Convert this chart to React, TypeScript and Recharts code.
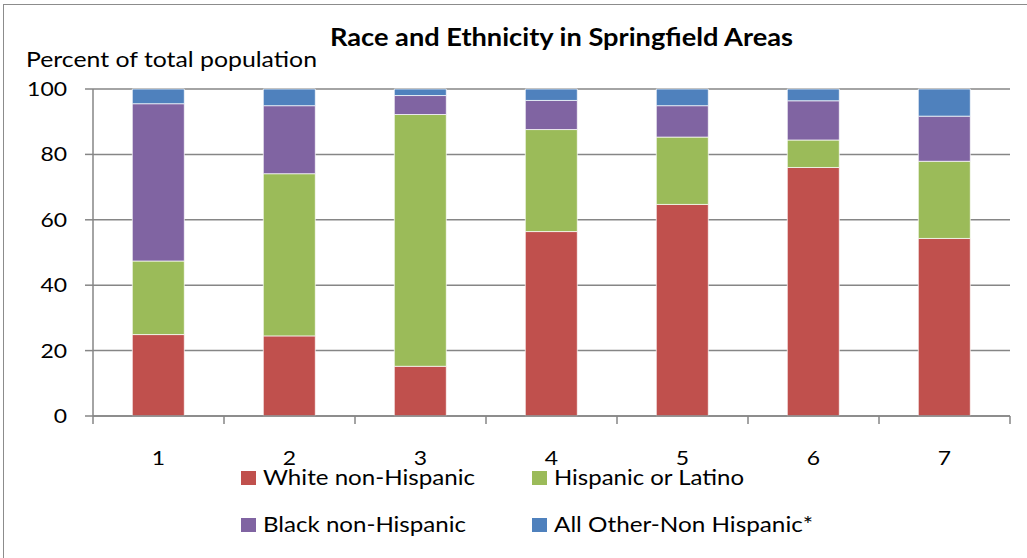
import { BarChart, Bar, XAxis, YAxis, CartesianGrid } from "recharts";

// Springfield areas, percent of total population by group
const areas = ["1", "2", "3", "4", "5", "6", "7"];
const whiteNonHispanic = [24.9, 24.5, 15.2, 56.4, 64.7, 76.0, 54.3];
const hispanicOrLatino = [22.5, 49.6, 77.0, 31.2, 20.6, 8.4, 23.6];
const blackNonHispanic = [48.1, 20.8, 5.8, 8.9, 9.6, 12.0, 13.8];
const allOtherNonHispanic = [4.5, 5.1, 2.0, 3.5, 5.1, 3.6, 8.3];
const yTicks = [0, 20, 40, 60, 80, 100];

const data = areas.map((area, i) => ({
  area,
  white: whiteNonHispanic[i],
  hispanic: hispanicOrLatino[i],
  black: blackNonHispanic[i],
  other: allOtherNonHispanic[i],
}));

const W = 1027;
const H = 558;
const MARGIN = { top: 89, right: 17, bottom: 0, left: 0 };
const Y_AXIS_W = 93;
const X_AXIS_H = 142;
const STEP = (W - MARGIN.right - Y_AXIS_W) / areas.length;

const FONT = "Lato, 'Open Sans', sans-serif";
const GRID = "#868686";
const DIGIT_W = 13.3; // stretched Calibri-like digits

const legendItems = [
  { label: "White non-Hispanic", color: "#C0504D", x: 241, y: 471, len: 212 },
  { label: "Hispanic or Latino", color: "#9BBB59", x: 532, y: 471, len: 190 },
  { label: "Black non-Hispanic", color: "#8064A2", x: 241, y: 518, len: 203 },
  { label: "All Other-Non Hispanic*", color: "#4F81BD", x: 532, y: 518, len: 259 },
];

function AreaTick(props: any) {
  const { x, y, payload, index } = props;
  const left = x - STEP / 2;
  const right = x + STEP / 2;
  return (
    <g>
      <line x1={left} x2={left} y1={y} y2={y + 8} stroke={GRID} strokeWidth={1.5} />
      {index === areas.length - 1 && (
        <line x1={right} x2={right} y1={y} y2={y + 8} stroke={GRID} strokeWidth={1.5} />
      )}
      <text
        x={x}
        y={y + 49}
        textAnchor="middle"
        fontFamily={FONT}
        fontSize={20}
        textLength={DIGIT_W}
        lengthAdjust="spacingAndGlyphs"
        fill="#000"
      >
        {payload.value}
      </text>
    </g>
  );
}

function PercentTick(props: any) {
  const { x, y, payload } = props;
  const label = String(payload.value);
  return (
    <text
      x={x}
      y={y + 7}
      textAnchor="end"
      fontFamily={FONT}
      fontSize={20}
      textLength={label.length * DIGIT_W}
      lengthAdjust="spacingAndGlyphs"
      fill="#000"
    >
      {label}
    </text>
  );
}

export default function App() {
  return (
    <div style={{ position: "fixed", left: 0, top: 0, width: W, height: H, background: "#fff", overflow: "hidden" }}>
      <div
        style={{
          position: "absolute",
          left: 3,
          top: 4,
          width: W + 20,
          height: H + 20,
          borderTop: "1.5px solid #8c8c8c",
          borderLeft: "1.5px solid #8c8c8c",
        }}
      />
      <BarChart width={W} height={H} data={data} margin={MARGIN} barCategoryGap="30%">
        <CartesianGrid vertical={false} stroke={GRID} strokeWidth={1.5} />
        <XAxis
          dataKey="area"
          height={X_AXIS_H}
          axisLine={{ stroke: GRID, strokeWidth: 1.5 }}
          tickLine={false}
          tickSize={0}
          tickMargin={0}
          interval={0}
          tick={<AreaTick />}
        />
        <YAxis
          domain={[0, 100]}
          ticks={yTicks}
          width={Y_AXIS_W}
          axisLine={{ stroke: GRID, strokeWidth: 1.5 }}
          tickLine={{ stroke: GRID, strokeWidth: 1.5 }}
          tickSize={8}
          tickMargin={18}
          tick={<PercentTick />}
        />
        <Bar dataKey="white" stackId="a" fill="#C0504D" stroke="#fff" strokeWidth={0.7} isAnimationActive={false} />
        <Bar dataKey="hispanic" stackId="a" fill="#9BBB59" stroke="#fff" strokeWidth={0.7} isAnimationActive={false} />
        <Bar dataKey="black" stackId="a" fill="#8064A2" stroke="#fff" strokeWidth={0.7} isAnimationActive={false} />
        <Bar dataKey="other" stackId="a" fill="#4F81BD" stroke="#fff" strokeWidth={0.7} isAnimationActive={false} />
      </BarChart>
      <svg width={W} height={H} style={{ position: "absolute", left: 0, top: 0, pointerEvents: "none" }}>
        <text
          x={330}
          y={46}
          fontFamily={FONT}
          fontWeight="bold"
          fontSize={24}
          textLength={463}
          lengthAdjust="spacingAndGlyphs"
          fill="#000"
        >
          Race and Ethnicity in Springfield Areas
        </text>
        <text x={26} y={67} fontFamily={FONT} fontSize={22} textLength={291} lengthAdjust="spacingAndGlyphs" fill="#000">
          Percent of total population
        </text>
        {legendItems.map((item) => (
          <g key={item.label}>
            <rect x={item.x} y={item.y} width={15} height={14} fill={item.color} />
            <text
              x={item.x + 22}
              y={item.y + 14}
              fontFamily={FONT}
              fontSize={21}
              textLength={item.len}
              lengthAdjust="spacingAndGlyphs"
              fill="#000"
            >
              {item.label}
            </text>
          </g>
        ))}
      </svg>
    </div>
  );
}
